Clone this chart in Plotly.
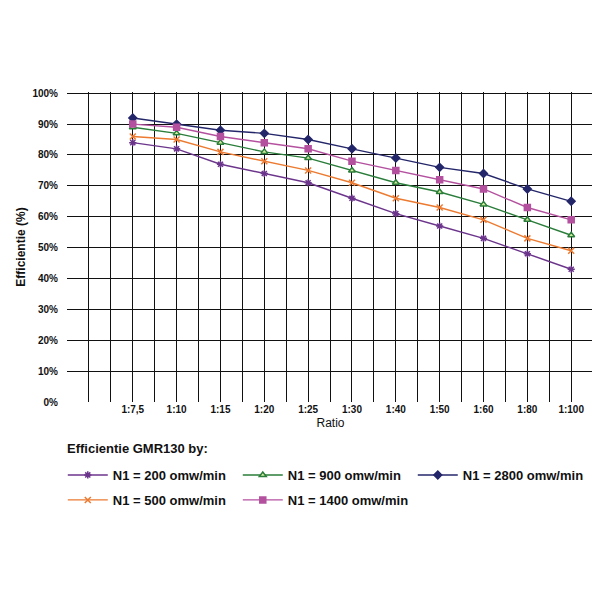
import numpy as np
import plotly.graph_objects as go

# ratio categories on the x axis
ratios = ["1:7,5", "1:10", "1:15", "1:20", "1:25", "1:30", "1:40", "1:50", "1:60", "1:80", "1:100"]

# efficiency (%) per input speed N1
eff_200 = [84, 82, 77, 74, 71, 66, 61, 57, 53, 48, 43]
eff_500 = [86, 85, 81, 78, 75, 71, 66, 63, 59, 53, 49]
eff_900 = [89, 87, 84, 81, 79, 75, 71, 68, 64, 59, 54]
eff_1400 = [90, 89, 86, 84, 82, 78, 75, 72, 69, 63, 59]
eff_2800 = [92, 90, 88, 87, 85, 82, 79, 76, 74, 69, 65]

y_ticks = list(range(0, 101, 10))

x_idx = list(range(len(ratios)))

series = [
    # name, values, color, symbol, marker fill, legend
    ("N1 = 200 omw/min", eff_200, "#6c358c", "asterisk-open", "#6c358c", "legend"),
    ("N1 = 900 omw/min", eff_900, "#2a7d3a", "triangle-up", "#d6ec9c", "legend"),
    ("N1 = 2800 omw/min", eff_2800, "#24266a", "diamond", "#24266a", "legend"),
    ("N1 = 500 omw/min", eff_500, "#ec7a30", "x-thin-open", "#ec7a30", "legend2"),
    ("N1 = 1400 omw/min", eff_1400, "#b4519f", "square", "#b4519f", "legend2"),
]

fig = go.Figure()
for name, vals, col, sym, fill, leg in series:
    fig.add_trace(go.Scatter(
        x=x_idx, y=vals, name=name, mode="lines+markers",
        line=dict(color=col, width=1.4),
        marker=dict(symbol=sym, size=6, color=fill, line=dict(color=col, width=1.5)),
        legend=leg,
    ))

# grid every half category, labels only on the categories
grid_x = np.arange(-1, len(ratios) + 0.5, 0.5)
grid_text = [ratios[int(v)] if v >= 0 and v == int(v) and v < len(ratios) else "" for v in grid_x]

family = "Liberation Sans, Arial, sans-serif"
bold = dict(family=family, color="#111", weight="bold")

legend_common = dict(
    orientation="h", x=-0.008, xanchor="left", yanchor="middle",
    entrywidth=120, entrywidthmode="pixels",
    font=dict(size=13, **bold), itemwidth=40, bgcolor="rgba(0,0,0,0)",
)

fig.update_layout(
    width=600, height=600,
    margin=dict(l=57, r=14, t=84, b=206),
    paper_bgcolor="white", plot_bgcolor="white",
    font=dict(family=family, color="#111"),
    showlegend=True,
    xaxis=dict(
        range=[-1.5, len(ratios) - 0.48],
        tickvals=grid_x, ticktext=grid_text,
        showgrid=True, gridcolor="#111", gridwidth=1.3,
        zeroline=False, showline=False, ticks="",
        tickfont=dict(size=10, **bold),
        title=dict(text="Ratio", font=dict(size=12, family=family, color="#111"), standoff=4),
    ),
    yaxis=dict(
        range=[0, 100.4],
        tickvals=y_ticks, ticktext=[f"{v}%" for v in y_ticks],
        showgrid=True, gridcolor="#111", gridwidth=1.3,
        zeroline=True, zerolinecolor="rgba(0,0,0,0)", zerolinewidth=0.1,
        showline=False, ticks="", ticklabelstandoff=8,
        tickfont=dict(size=10, **bold),
        title=dict(text="Efficientie (%)", font=dict(size=12, **bold), standoff=4),
    ),
    legend=dict(y=-0.2355, **legend_common),
    legend2=dict(y=-0.316, **legend_common),
    annotations=[dict(
        text="Efficientie GMR130 by:", xref="paper", yref="paper",
        x=-0.004, y=-0.15, xanchor="left", yanchor="middle", showarrow=False,
        font=dict(size=13, **bold),
    )],
)

fig.write_html("out.html")
